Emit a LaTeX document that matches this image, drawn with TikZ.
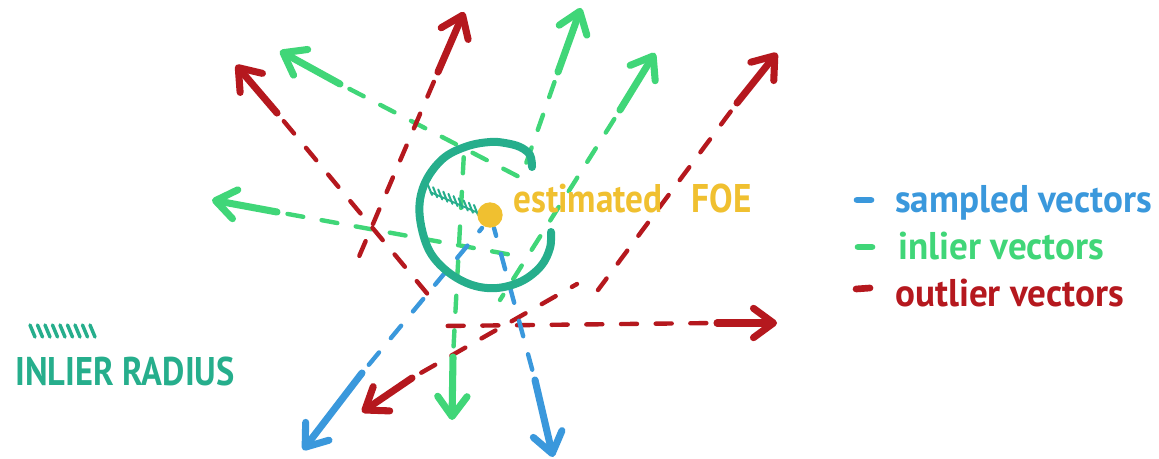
\documentclass[tikz,border=0pt]{standalone}
\usepackage{fontspec}
\setmainfont{PT Sans}
\usetikzlibrary{arrows.meta,calc}
\definecolor{cred}{RGB}{181,24,30}
\definecolor{cgreen}{RGB}{64,214,120}
\definecolor{cblue}{RGB}{58,152,220}
\definecolor{cteal}{RGB}{38,174,140}
\definecolor{cyellow}{RGB}{240,192,48}
\begin{document}
\begin{tikzpicture}[x=0.75pt,y=-0.75pt,
  dashpart/.style={line width=3.3pt, line cap=round, dash pattern=on 12pt off 14pt, dash phase=18pt},
  solidpart/.style={line width=5.3pt, line cap=round, line join=round, -{Straight Barb[length=15pt,width=22pt,round]}},
  label/.style={inner sep=0pt, anchor=base west, font=\fontsize{29pt}{32pt}\selectfont\bfseries},
  legdash/.style={line width=5pt, line cap=round}]
\useasboundingbox (0,0) rectangle (1159,459);
% ---------- arrow coordinates (tail, solid start, tip) ----------
\coordinate (g1a) at (525,180); \coordinate (g1b) at (340,84);  \coordinate (g1c) at (280,51);
\coordinate (g2a) at (512,255); \coordinate (g2b) at (277,212); \coordinate (g2c) at (212,200);
\coordinate (g3a) at (522,175); \coordinate (g3b) at (558,72);  \coordinate (g3c) at (581,8);
\coordinate (g4a) at (500,300); \coordinate (g4b) at (620,110); \coordinate (g4c) at (655,53);
\coordinate (g5a) at (464,152); \coordinate (g5b) at (453,357); \coordinate (g5c) at (452,420);
\coordinate (r1a) at (430,297); \coordinate (r1b) at (277,113); \coordinate (r1c) at (236,65);
\coordinate (r2a) at (352,273); \coordinate (r2b) at (438,72);  \coordinate (r2c) at (464,12);
\coordinate (r3a) at (598,290); \coordinate (r3b) at (737,103); \coordinate (r3c) at (777,53);
\coordinate (r4a) at (577,284); \coordinate (r4b) at (412,378); \coordinate (r4c) at (362,412);
\coordinate (r5a) at (443,326); \coordinate (r5b) at (717,323); \coordinate (r5c) at (777,323);
\coordinate (b1a) at (482,228); \coordinate (b1b) at (362,373); \coordinate (b1c) at (303,450);
\coordinate (b2a) at (494,228); \coordinate (b2b) at (535,380); \coordinate (b2c) at (553,457);
% ---------- dashed parts ----------
\foreach \n in {g1,g2,g3,g4,g5}{\draw[dashpart,cgreen] (\n b) -- (\n a);}
\foreach \n in {r1,r2,r3,r4,r5}{\draw[dashpart,cred] (\n b) -- (\n a);}
\foreach \n in {b1,b2}{\draw[dashpart,cblue] (\n b) -- (\n a);}
% ---------- solid parts with heads ----------
\foreach \n in {g1,g2,g3,g4,g5}{\draw[solidpart,cgreen] (\n b) -- (\n c);}
\foreach \n in {r1,r2,r3,r4,r5}{\draw[solidpart,cred] (\n b) -- (\n c);}
\foreach \n in {b1,b2}{\draw[solidpart,cblue] (\n b) -- (\n c);}
% ---------- inlier circle ----------
\draw[cteal, line width=6pt, line cap=round] plot[smooth, tension=0.6] coordinates {
 (532,167) (530,155) (520,147) (505,143) (490,142) (468,146) (445,157) (428,177) (420,200)
 (421,225) (430,252) (448,272) (472,285) (497,288) (522,281) (541,266) (550,248) (551,232)};
% hatch (radius)
\draw[cteal, line width=1.3pt] (430,192) -- (476,212);
\foreach \i in {0,...,9}{
  \draw[cteal, line width=1.5pt, line cap=round] ($(430,192)!\i/9!(476,212)$) ++(-2,-7) -- ++(4,10);
}
% FOE dot
\node[circle, fill=cyellow, minimum size=19pt, inner sep=0pt] (foe) at (490,215) {};
\node[label, font=\fontsize{30pt}{32pt}\selectfont\bfseries, text=cyellow] (foelbl) at (513,213) {\scalebox{0.88}[1]{estimated\hspace{25pt}FOE}};
% ---------- legend ----------
\coordinate (lb1) at (857,200); \coordinate (lb2) at (871,200);
\coordinate (lg1) at (858,247); \coordinate (lg2) at (872,247);
\coordinate (lr1) at (856,289); \coordinate (lr2) at (870,288);
\draw[legdash,cblue] (lb1) -- (lb2);
\draw[legdash,cgreen] (lg1) -- (lg2);
\draw[legdash,cred] (lr1) -- (lr2);
\node[label, text=cblue] (ls) at (895,213) {\scalebox{0.96}[1]{sampled vectors}};
\node[label, text=cgreen] (li) at (898,260) {\scalebox{0.96}[1]{inlier vectors}};
\node[label, text=cred] (lo) at (895,307) {\scalebox{0.96}[1]{outlier vectors}};
% inlier radius legend
\foreach \x in {30,37.5,...,90}{
  \draw[cteal, line width=2.6pt, line cap=round] (\x,325) -- ++(5,12);
}
\node[label, font=\fontsize{30pt}{32pt}\selectfont\bfseries, text=cteal] (lrad) at (15,385) {\scalebox{0.86}[1]{INLIER RADIUS}};
\end{tikzpicture}
\end{document}
